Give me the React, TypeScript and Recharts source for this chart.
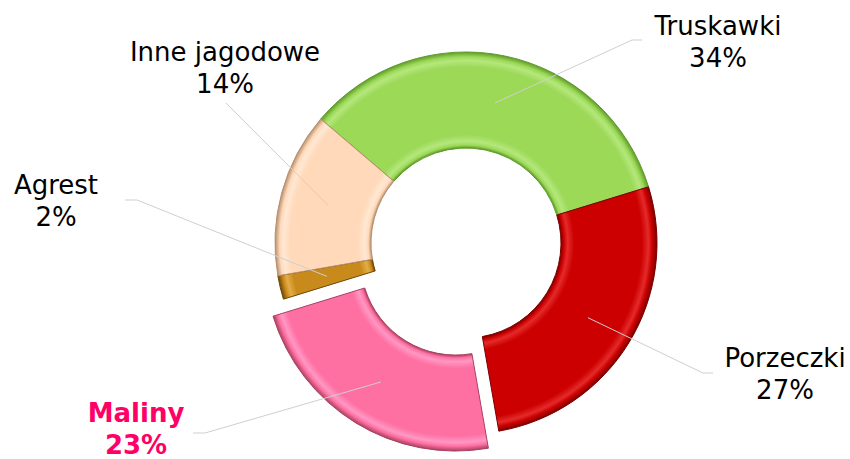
import React from "react";
import { PieChart, Pie, Cell } from "recharts";

const categories = ["Truskawki", "Porzeczki", "Maliny", "Agrest", "Inne jagodowe"];
const shares = [34, 27, 23, 2, 14];
const percentLabels = ["34%", "27%", "23%", "2%", "14%"];
const explodedIndex = 2;

const data = categories.map((name, i) => ({ name, value: shares[i] }));

// layout / styles
const CX = 466;
const CY = 243;
const INNER = 95;
const OUTER = 191;
const START = 139.5;
const EXPLODE = 20;

const palette = [
  { base: "#9bd957", light: "#b5e77c", dark: "#5f9a2a" },
  { base: "#cc0000", light: "#e42a2a", dark: "#7a0000" },
  { base: "#ff70a2", light: "#ff98c4", dark: "#a8405f" },
  { base: "#c98a1c", light: "#e4ad48", dark: "#6e4706" },
  { base: "#ffd9b9", light: "#ffe8d4", dark: "#b89070" },
];

// label anchors relative to the pie centre: elbow of leader, end of leader, text
const labelLayout = [
  { elbow: [166, -203], end: [176, -203], text: [252, -208] },
  { elbow: [237, 130], end: [247, 130], text: [319, 124] },
  { elbow: [-261, 190], end: [-273, 190], text: [-330, 179] },
  { elbow: [-329, -43], end: [-341, -43], text: [-410, -49] },
  { elbow: [-240, -140], end: [-240, -140], text: [-241, -182] },
];

const RAD = Math.PI / 180;
const total = shares.reduce((s, v) => s + v, 0);
const before = shares.slice(0, explodedIndex).reduce((s, v) => s + v, 0);
const explodeMid = START - (360 * (before + shares[explodedIndex] / 2)) / total;
const explodeDx = EXPLODE * Math.cos(explodeMid * RAD);
const explodeDy = -EXPLODE * Math.sin(explodeMid * RAD);

const renderLabel = (props: any) => {
  const { cx, cy, midAngle, index } = props;
  const lay = labelLayout[index];
  const r = (INNER + OUTER) / 2;
  let sx = cx + r * Math.cos(-midAngle * RAD);
  let sy = cy + r * Math.sin(-midAngle * RAD);
  if (index === explodedIndex) {
    sx += explodeDx;
    sy += explodeDy;
  }
  const isHot = index === explodedIndex;
  const tx = cx + lay.text[0];
  const ty = cy + lay.text[1];
  return (
    <g key={`lbl-${index}`}>
      <polyline
        points={`${sx},${sy} ${cx + lay.elbow[0]},${cy + lay.elbow[1]} ${cx + lay.end[0]},${cy + lay.end[1]}`}
        fill="none"
        stroke="#cfcfcf"
        strokeWidth={1}
      />
      <text
        x={tx}
        y={ty}
        textAnchor="middle"
        fontFamily="DejaVu Sans, Verdana, sans-serif"
        fontSize={26}
        fontWeight={isHot ? "bold" : "normal"}
        fill={isHot ? "#ff0066" : "#000000"}
      >
        <tspan x={tx} y={ty}>{categories[index]}</tspan>
        <tspan x={tx} y={ty + 32}>{percentLabels[index]}</tspan>
      </text>
    </g>
  );
};

const Gradient = ({ id, c, cx, cy }: { id: string; c: any; cx: number; cy: number }) => {
  const i0 = INNER / OUTER;
  return (
    <radialGradient id={id} gradientUnits="userSpaceOnUse" cx={cx} cy={cy} r={OUTER}>
      <stop offset={i0} stopColor={c.dark} />
      <stop offset={i0 + 0.015} stopColor={c.base} />
      <stop offset={i0 + 0.035} stopColor={c.light} />
      <stop offset={i0 + 0.07} stopColor={c.base} />
      <stop offset={0.92} stopColor={c.base} />
      <stop offset={0.955} stopColor={c.light} />
      <stop offset={0.975} stopColor={c.base} />
      <stop offset={1} stopColor={c.dark} />
    </radialGradient>
  );
};

export default function App() {
  return (
    <div style={{ position: "absolute", left: 0, top: 0, background: "#fff" }}>
      <PieChart width={850} height={459} margin={{ top: 0, right: 0, bottom: 0, left: 0 }}>
        <defs>
          {palette.map((c, i) => (
            <Gradient
              key={i}
              id={`grad${i}`}
              c={c}
              cx={i === explodedIndex ? CX + explodeDx : CX}
              cy={i === explodedIndex ? CY + explodeDy : CY}
            />
          ))}
        </defs>
        <Pie
          data={data}
          dataKey="value"
          nameKey="name"
          cx={CX}
          cy={CY}
          innerRadius={INNER}
          outerRadius={OUTER}
          startAngle={START}
          endAngle={START - 360}
          isAnimationActive={false}
          labelLine={false}
          label={renderLabel}
        >
          {data.map((d, i) => (
            <Cell
              key={d.name}
              fill={i === explodedIndex ? "none" : `url(#grad${i})`}
              stroke={i === explodedIndex ? "none" : palette[i].dark}
              strokeWidth={1}
            />
          ))}
        </Pie>
        <Pie
          data={data}
          dataKey="value"
          nameKey="name"
          cx={CX + explodeDx}
          cy={CY + explodeDy}
          innerRadius={INNER}
          outerRadius={OUTER}
          startAngle={START}
          endAngle={START - 360}
          isAnimationActive={false}
          labelLine={false}
          label={false}
        >
          {data.map((d, i) => (
            <Cell
              key={d.name}
              fill={i === explodedIndex ? `url(#grad${i})` : "none"}
              stroke={i === explodedIndex ? palette[i].dark : "none"}
              strokeWidth={1}
            />
          ))}
        </Pie>
      </PieChart>
    </div>
  );
}
